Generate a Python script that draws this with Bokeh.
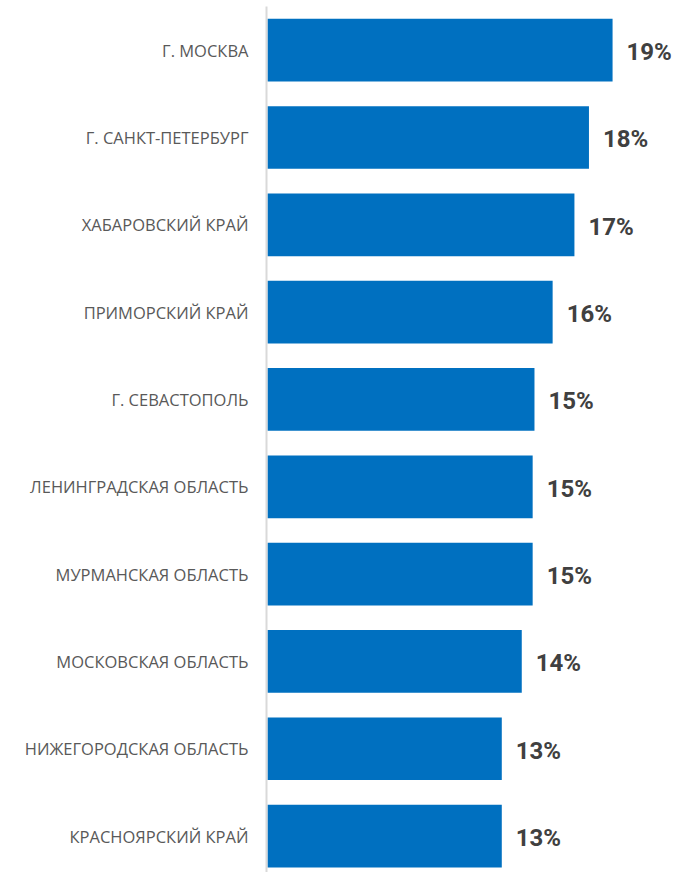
from bokeh.plotting import figure
from bokeh.models import ColumnDataSource, Range1d, FixedTicker, LabelSet
from bokeh.core.properties import value
from bokeh.embed import file_html
from bokeh.resources import INLINE

regions = [
    "Г. МОСКВА",
    "Г. САНКТ-ПЕТЕРБУРГ",
    "ХАБАРОВСКИЙ КРАЙ",
    "ПРИМОРСКИЙ КРАЙ",
    "Г. СЕВАСТОПОЛЬ",
    "ЛЕНИНГРАДСКАЯ ОБЛАСТЬ",
    "МУРМАНСКАЯ ОБЛАСТЬ",
    "МОСКОВСКАЯ ОБЛАСТЬ",
    "НИЖЕГОРОДСКАЯ ОБЛАСТЬ",
    "КРАСНОЯРСКИЙ КРАЙ",
]
shares = [19.0, 17.7, 16.9, 15.7, 14.7, 14.6, 14.6, 14.0, 12.9, 12.9]
labels = ["19%", "18%", "17%", "16%", "15%", "15%", "15%", "14%", "13%", "13%"]

idx = list(range(len(regions)))
src = ColumnDataSource(dict(y=idx, v=shares, lab=labels))

W, H = 678, 872
p = figure(width=W, height=H, output_backend="svg", toolbar_location=None,
           x_range=Range1d(-0.055, 22.63), y_range=Range1d(9.417, -0.5),
           min_border_left=266, min_border_right=0, min_border_top=6, min_border_bottom=0)
p.hbar(y="y", right="v", left=0, height=0.718, source=src, color="#0070C0", line_color=None)

lbl = LabelSet(x="v", y="y", text="lab", source=src, x_offset=14, y_offset=-2,
               text_align="left", text_baseline="middle",
               text_font=value("Roboto"), text_font_style="bold", text_font_size="24px",
               text_color="#404040")
p.add_layout(lbl)

p.xaxis.visible = False
p.grid.visible = False
p.outline_line_color = None
ya = p.yaxis[0]
ya.ticker = FixedTicker(ticks=idx)
ya.major_label_overrides = {i: r for i, r in zip(idx, regions)}
ya.major_tick_line_color = None
ya.minor_tick_line_color = None
ya.axis_line_color = "#d9d9d9"
ya.axis_line_width = 2
ya.major_label_standoff = 12
ya.major_label_text_font = "Open Sans"
ya.major_label_text_font_size = "16.5px"
ya.major_label_text_color = "#595959"
ya.major_label_text_font_style = "normal"

open("out.html", "w").write(file_html(p, INLINE))
